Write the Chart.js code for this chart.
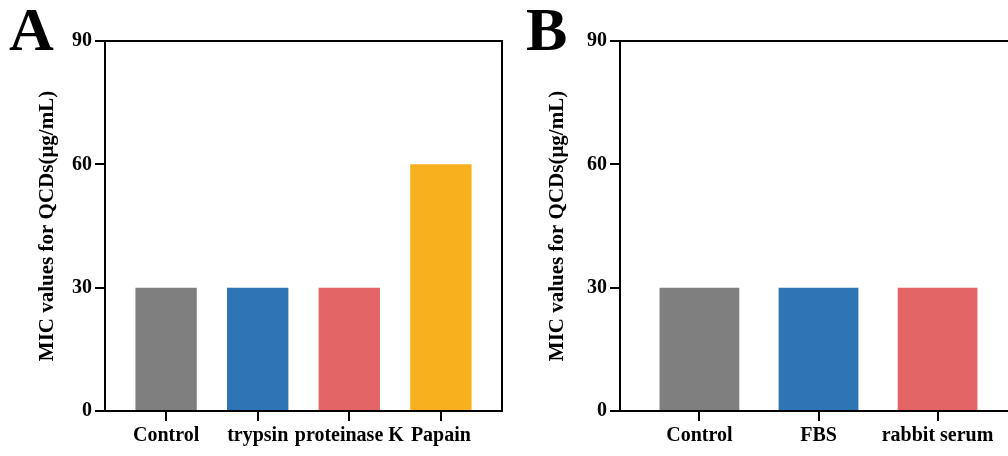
<!DOCTYPE html>
<html>
<head>
<meta charset="utf-8">
<script src="https://cdn.jsdelivr.net/npm/chart.js@4"></script>
<style>
  html, body { margin: 0; padding: 0; background: #fff; }
  body { width: 1008px; height: 456px; overflow: hidden; position: relative; }
  .panel { position: absolute; top: 0; height: 456px; }
  .letter { position: absolute; top: -2px; font: bold 62px "Liberation Serif", serif; line-height: 62px; color: #000; }
</style>
</head>
<body>
<div class="panel" style="left:0;width:510px"><canvas id="chartA"></canvas></div>
<div class="panel" style="left:510px;width:520px"><canvas id="chartB"></canvas></div>
<div class="letter" style="left:9px">A</div>
<div class="letter" style="left:526px">B</div>
<script>
// panel A
var labelsA = ['Control', 'trypsin', 'proteinase K', 'Papain'];
var valuesA = [30, 30, 30, 60];
var colorsA = ['#7f7f7f', '#2e75b6', '#e46565', '#f8b01f'];

// panel B
var labelsB = ['Control', 'FBS', 'rabbit serum'];
var valuesB = [30, 30, 30];
var colorsB = ['#7f7f7f', '#2e75b6', '#e46565'];

var yTicks = [0, 30, 60, 90];
var yTitle = 'MIC values for QCDs(μg/mL)';

var serif = '"Liberation Serif", "Times New Roman", serif';

// draws the top and right edge of the plot box
var framePlugin = {
  id: 'frame',
  afterDraw: function(chart) {
    var a = chart.chartArea;
    var ctx = chart.ctx;
    ctx.save();
    ctx.strokeStyle = '#000';
    ctx.lineWidth = 2;
    ctx.beginPath();
    ctx.moveTo(a.left, a.top);
    ctx.lineTo(a.right, a.top);
    ctx.lineTo(a.right, a.bottom);
    ctx.stroke();
    ctx.restore();
  }
};

function makeChart(id, cats, vals, colors, yWidth, padRight, canvasW) {
  var ctx = document.getElementById(id);
  ctx.width = canvasW;
  ctx.height = 456;
  return new Chart(ctx, {
    type: 'bar',
    data: {
      datasets: [{
        data: cats.map(function(c, i) { return {x: i, y: vals[i]}; }),
        backgroundColor: colors,
        borderWidth: 0,
        barPercentage: 0.67,
        categoryPercentage: 1
      }]
    },
    options: {
      responsive: false,
      animation: false,
      layout: { padding: { top: 41, right: padRight, left: 0, bottom: 0 } },
      plugins: { legend: { display: false }, tooltip: { enabled: false } },
      scales: {
        x: {
          type: 'linear',
          offset: false,
          min: -0.667,
          max: cats.length - 1 + 0.667,
          afterBuildTicks: function(scale) {
            scale.ticks = cats.map(function(c, i) { return {value: i}; });
          },
          afterFit: function(scale) { scale.height = 45; },
          ticks: {
            autoSkip: false,
            maxRotation: 0,
            padding: 3,
            color: '#000',
            font: { family: serif, size: 20, weight: 'bold' },
            callback: function(v) { return cats[v]; }
          },
          grid: { offset: false, drawOnChartArea: false, drawTicks: true, tickLength: 10, color: '#000', lineWidth: 2 },
          border: { color: '#000', width: 2 }
        },
        y: {
          min: 0,
          max: 90,
          afterBuildTicks: function(scale) {
            scale.ticks = yTicks.map(function(v) { return {value: v}; });
          },
          afterFit: function(scale) { scale.width = yWidth; },
          ticks: {
            padding: 3,
            color: '#000',
            font: { family: serif, size: 20, weight: 'bold' }
          },
          grid: { drawOnChartArea: false, drawTicks: true, tickLength: 10, color: '#000', lineWidth: 2 },
          border: { color: '#000', width: 2 },
          title: {
            display: true,
            text: yTitle,
            color: '#000',
            padding: { top: 35, bottom: 0 },
            font: { family: serif, size: 21, weight: 'bold' }
          }
        }
      }
    },
    plugins: [framePlugin]
  });
}

makeChart('chartA', labelsA, valuesA, colorsA, 105, 8, 510);
makeChart('chartB', labelsB, valuesB, colorsB, 110, 13, 520);
</script>
</body>
</html>
